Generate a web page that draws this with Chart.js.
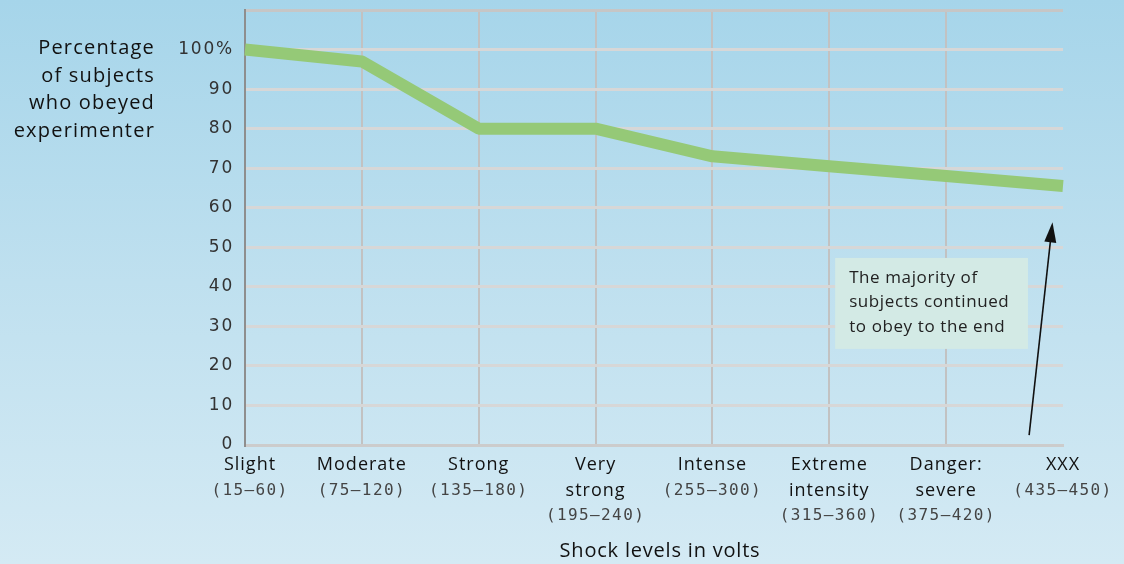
<!DOCTYPE html>
<html>
<head>
<meta charset="utf-8">
<script src="https://cdn.jsdelivr.net/npm/chart.js@4/dist/chart.umd.min.js"></script>
<style>
    body { margin: 0; }
    #wrap {
        width: 1124px;
        height: 564px;
        background: linear-gradient(to bottom, #a6d5ea 0%, #bfe0ef 50%, #d4eaf4 100%);
    }
</style>
</head>
<body>
<div id="wrap"><canvas id="chart" width="1124" height="564"></canvas></div>
<script>
// shock level names (one array entry per text line) and voltage ranges
const levelNames = [
    ['Slight'],
    ['Moderate'],
    ['Strong'],
    ['Very', 'strong'],
    ['Intense'],
    ['Extreme', 'intensity'],
    ['Danger:', 'severe'],
    ['XXX']
];
const levelRanges = ['(15–60)', '(75–120)', '(135–180)', '(195–240)', '(255–300)', '(315–360)', '(375–420)', '(435–450)'];

// percentage of subjects still obeying at each level
const obeyed = [100, 97, 80, 80, 73, 70.5, 68, 65.5];

const yTicks = [0, 10, 20, 30, 40, 50, 60, 70, 80, 90, 100];
const yTitle = ['Percentage', 'of subjects', 'who obeyed', 'experimenter'];
const xTitle = 'Shock levels in volts';
const note = ['The majority of', 'subjects continued', 'to obey to the end'];

const textPlugin = {
    id: 'texts',
    beforeDraw(chart) {
        // wider spacing for the native y tick labels
        chart.ctx.letterSpacing = '1.8px';
    },
    afterDraw(chart) {
        const ctx = chart.ctx;
        const xs = chart.scales.x;
        const ys = chart.scales.y;
        ctx.save();
        ctx.textBaseline = 'middle';

        // y title, horizontal and right aligned
        ctx.font = '20px "Open Sans"';
        ctx.fillStyle = '#111';
        ctx.textAlign = 'right';
        ctx.letterSpacing = '1.2px';
        yTitle.forEach((t, i) => ctx.fillText(t, 155, 48 + i * 27.8));

        // category labels
        ctx.textAlign = 'center';
        levelNames.forEach((lines, i) => {
            const x = xs.getPixelForValue(i) + (i === 0 ? 5 : 0);
            let y = 465;
            ctx.font = '18px "Open Sans"';
            ctx.fillStyle = '#111';
            ctx.letterSpacing = '1px';
            lines.forEach(l => { ctx.fillText(l, x, y); y += 25.5; });
            ctx.font = '16px "DejaVu Sans Mono"';
            ctx.fillStyle = '#444';
            ctx.letterSpacing = '1.4px';
            ctx.fillText(levelRanges[i], x, y);
        });

        // x title
        ctx.font = '20px "Open Sans"';
        ctx.fillStyle = '#111';
        ctx.letterSpacing = '0.8px';
        ctx.fillText(xTitle, (xs.left + xs.right) / 2 + 6, 551);

        // note box
        const bx = xs.getPixelForValue(5.05), bx2 = xs.getPixelForValue(6.7);
        const by = ys.getPixelForValue(47.3), by2 = ys.getPixelForValue(24.3);
        ctx.fillStyle = '#d3eae5';
        ctx.fillRect(bx, by, bx2 - bx, by2 - by);
        ctx.font = '17px "Open Sans"';
        ctx.fillStyle = '#222';
        ctx.textAlign = 'left';
        ctx.letterSpacing = '0.6px';
        note.forEach((t, i) => ctx.fillText(t, bx + 14, by + 20 + i * 24.5));

        // arrow
        const ax = xs.getPixelForValue(6.71), ay = ys.getPixelForValue(2.5);
        const hx = xs.getPixelForValue(6.91), hy = ys.getPixelForValue(56.3);
        const ang = Math.atan2(hy - ay, hx - ax);
        ctx.strokeStyle = '#111';
        ctx.lineWidth = 1.6;
        ctx.beginPath();
        ctx.moveTo(ax, ay);
        ctx.lineTo(hx - 14 * Math.cos(ang), hy - 14 * Math.sin(ang));
        ctx.stroke();
        ctx.fillStyle = '#111';
        ctx.beginPath();
        ctx.moveTo(hx, hy);
        ctx.lineTo(hx - 20 * Math.cos(ang) + 6 * Math.sin(ang), hy - 20 * Math.sin(ang) - 6 * Math.cos(ang));
        ctx.lineTo(hx - 20 * Math.cos(ang) - 6 * Math.sin(ang), hy - 20 * Math.sin(ang) + 6 * Math.cos(ang));
        ctx.closePath();
        ctx.fill();
        ctx.restore();
    }
};

const ctx = document.getElementById('chart').getContext('2d');
new Chart(ctx, {
    type: 'line',
    data: {
        labels: levelNames.map(n => n.join(' ')),
        datasets: [{
            data: obeyed,
            borderColor: '#95c977',
            borderWidth: 12,
            borderCapStyle: 'butt',
            borderJoinStyle: 'round',
            pointRadius: 0,
            tension: 0,
            fill: false
        }]
    },
    options: {
        responsive: false,
        animation: false,
        layout: { padding: { top: 10, right: 61, left: 0, bottom: 0 } },
        plugins: {
            legend: { display: false },
            tooltip: { enabled: false }
        },
        scales: {
            x: {
                offset: false,
                ticks: { display: false },
                grid: {
                    color: c => c.index === levelNames.length - 1 ? 'rgba(0,0,0,0)' : '#c2c2c2',
                    lineWidth: 2,
                    drawTicks: false
                },
                border: { display: true, color: '#cccccc', width: 3 },
                afterFit: s => { s.height = 119; }
            },
            y: {
                min: 0,
                max: 110,
                afterBuildTicks: s => { s.ticks = yTicks.concat([110]).map(v => ({ value: v })); },
                ticks: {
                    callback: v => v === 110 ? '' : (v === 100 ? '100%' : v),
                    font: { family: 'DejaVu Sans', size: 17 },
                    color: '#333',
                    padding: 11
                },
                grid: {
                    color: c => c.tick && c.tick.value === 110 ? '#c6c6c6' : '#d7d7d7',
                    lineWidth: 3,
                    drawTicks: false
                },
                border: { display: true, color: '#8e8e8e', width: 2 },
                afterFit: s => { s.width = 245; s.paddingTop = 0; s.paddingBottom = 0; }
            }
        }
    },
    plugins: [textPlugin]
});
</script>
</body>
</html>
